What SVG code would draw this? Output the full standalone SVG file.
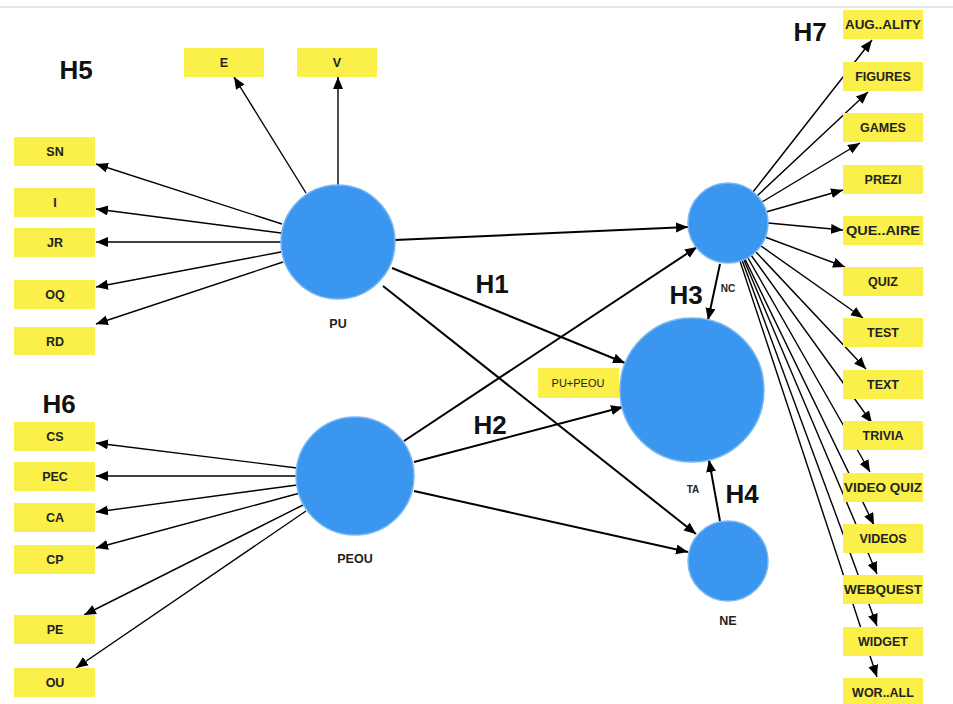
<svg xmlns="http://www.w3.org/2000/svg" width="953" height="704" viewBox="0 0 953 704">
  <defs>
    <marker id="head" markerUnits="userSpaceOnUse" markerWidth="13" markerHeight="11" refX="12" refY="5" orient="auto">
      <path d="M0,0 L12,5 L0,10 z" fill="#000"/>
    </marker>
    <style>
      .box { fill: #fbef4a; }
      .lbl { font-family: "Liberation Sans", Arial, sans-serif; font-weight: bold; font-size: 12.5px; fill: #222; text-anchor: middle; }
      .hyp { font-family: "Liberation Sans", Arial, sans-serif; font-weight: bold; font-size: 26px; fill: #111; text-anchor: middle; }
      .circ { fill: #3a96ee; stroke: #7ab8f2; stroke-width: 1.5; }
      .thin line { stroke: #000; stroke-width: 1.4; marker-end: url(#head); }
      .thick line { stroke: #000; stroke-width: 2; marker-end: url(#head); }
    </style>
  </defs>

  <rect width="953" height="704" fill="#fff"/>
  <line x1="0" y1="7" x2="953" y2="7" stroke="#e4e4e4" stroke-width="2"/>

  <!-- connectors -->
  <g id="connectors">
    <g class="thin">
      <!-- PU indicators -->
      <line x1="306" y1="193" x2="234" y2="77"/>
      <line x1="338" y1="185" x2="338" y2="77"/>
      <line x1="282" y1="224" x2="96" y2="164"/>
      <line x1="281" y1="233" x2="96" y2="209"/>
      <line x1="281" y1="242" x2="96" y2="242"/>
      <line x1="281" y1="252" x2="96" y2="287"/>
      <line x1="283" y1="262" x2="96" y2="324"/>
      <!-- PEOU indicators -->
      <line x1="297" y1="468" x2="96" y2="443"/>
      <line x1="297" y1="476" x2="96" y2="476"/>
      <line x1="297" y1="485" x2="96" y2="512"/>
      <line x1="300" y1="493" x2="96" y2="548"/>
      <line x1="303" y1="505" x2="84" y2="615"/>
      <line x1="306" y1="511" x2="76" y2="668"/>
      <!-- NC indicators -->
      <line x1="753" y1="192" x2="872" y2="40"/>
      <line x1="757" y1="196" x2="868" y2="92"/>
      <line x1="762" y1="202" x2="860" y2="143"/>
      <line x1="766" y1="212" x2="843" y2="190"/>
      <line x1="768" y1="223" x2="843" y2="230"/>
      <line x1="765" y1="237" x2="845" y2="267"/>
      <line x1="761" y1="246" x2="863" y2="318"/>
      <line x1="756" y1="252" x2="866" y2="369"/>
      <line x1="751" y1="255" x2="872" y2="423"/>
      <line x1="748" y1="258" x2="870" y2="472"/>
      <line x1="745" y1="259" x2="874" y2="525"/>
      <line x1="744" y1="260" x2="877" y2="574"/>
      <line x1="742" y1="260" x2="877" y2="626"/>
      <line x1="740" y1="261" x2="877" y2="677"/>
    </g>
    <g class="thick">
      <line x1="395" y1="240" x2="688" y2="227"/>
      <line x1="392" y1="268" x2="625" y2="363"/>
      <line x1="383" y1="286" x2="696" y2="534"/>
      <line x1="404" y1="441" x2="697" y2="247"/>
      <line x1="414" y1="462" x2="623" y2="407"/>
      <line x1="414" y1="491" x2="688" y2="552"/>
      <line x1="720" y1="264" x2="708" y2="320"/>
      <line x1="720" y1="521" x2="709" y2="460"/>
    </g>
  </g>

  <!-- hypothesis labels -->
  <text class="hyp" x="76" y="79">H5</text>
  <text class="hyp" x="59" y="413">H6</text>
  <text class="hyp" x="810" y="41">H7</text>
  <text class="hyp" x="492" y="293">H1</text>
  <text class="hyp" x="490" y="434">H2</text>
  <text class="hyp" x="686" y="304">H3</text>
  <text class="hyp" x="742" y="503">H4</text>

  <!-- latent constructs -->
  <g id="PU"><circle class="circ" cx="338" cy="242" r="57"/><text class="lbl" x="338" y="328">PU</text></g>
  <g id="PEOU"><circle class="circ" cx="355" cy="476" r="59"/><text class="lbl" x="355" y="563">PEOU</text></g>
  <g id="NC"><circle class="circ" cx="728" cy="223" r="40"/><text class="lbl" x="728" y="292" style="font-size:10px">NC</text></g>
  <g id="TA"><circle class="circ" cx="692" cy="390" r="72"/><text class="lbl" x="693" y="493" style="font-size:10px">TA</text></g>
  <g id="NE"><circle class="circ" cx="728" cy="561" r="40"/><text class="lbl" x="728" y="625">NE</text></g>

  <g id="PU_PEOU"><rect class="box" x="538" y="368" width="81" height="30"/><text class="lbl" x="578" y="387" style="font-weight:normal;font-size:11px">PU+PEOU</text></g>

  <!-- PU indicators -->
  <g id="E"><rect class="box" x="184" y="48" width="80" height="29"/><text class="lbl" x="224" y="67">E</text></g>
  <g id="V"><rect class="box" x="297" y="48" width="80" height="29"/><text class="lbl" x="337" y="67">V</text></g>
  <g id="SN"><rect class="box" x="14" y="137" width="81" height="29"/><text class="lbl" x="55" y="156">SN</text></g>
  <g id="I"><rect class="box" x="14" y="188" width="81" height="29"/><text class="lbl" x="55" y="207">I</text></g>
  <g id="JR"><rect class="box" x="14" y="228" width="81" height="29"/><text class="lbl" x="55" y="247">JR</text></g>
  <g id="OQ"><rect class="box" x="14" y="280" width="81" height="29"/><text class="lbl" x="55" y="299">OQ</text></g>
  <g id="RD"><rect class="box" x="14" y="327" width="81" height="28"/><text class="lbl" x="55" y="346">RD</text></g>

  <!-- PEOU indicators -->
  <g id="CS"><rect class="box" x="14" y="422" width="81" height="29"/><text class="lbl" x="55" y="441">CS</text></g>
  <g id="PEC"><rect class="box" x="14" y="462" width="81" height="29"/><text class="lbl" x="55" y="481">PEC</text></g>
  <g id="CA"><rect class="box" x="14" y="503" width="81" height="29"/><text class="lbl" x="55" y="522">CA</text></g>
  <g id="CP"><rect class="box" x="14" y="545" width="81" height="29"/><text class="lbl" x="55" y="564">CP</text></g>
  <g id="PE"><rect class="box" x="14" y="615" width="81" height="29"/><text class="lbl" x="55" y="634">PE</text></g>
  <g id="OU"><rect class="box" x="14" y="668" width="81" height="29"/><text class="lbl" x="55" y="687">OU</text></g>

  <!-- NC indicators -->
  <g id="AUGALITY"><rect class="box" x="843" y="10" width="80" height="29"/><text class="lbl" x="883" y="29" textLength="76" lengthAdjust="spacingAndGlyphs">AUG..ALITY</text></g>
  <g id="FIGURES"><rect class="box" x="843" y="62" width="80" height="29"/><text class="lbl" x="883" y="81">FIGURES</text></g>
  <g id="GAMES"><rect class="box" x="843" y="113" width="80" height="29"/><text class="lbl" x="883" y="132">GAMES</text></g>
  <g id="PREZI"><rect class="box" x="843" y="165" width="80" height="29"/><text class="lbl" x="883" y="184">PREZI</text></g>
  <g id="QUEAIRE"><rect class="box" x="843" y="216" width="80" height="29"/><text class="lbl" x="883" y="235" textLength="74" lengthAdjust="spacingAndGlyphs">QUE..AIRE</text></g>
  <g id="QUIZ"><rect class="box" x="843" y="267" width="80" height="29"/><text class="lbl" x="883" y="286">QUIZ</text></g>
  <g id="TEST"><rect class="box" x="843" y="318" width="80" height="29"/><text class="lbl" x="883" y="337">TEST</text></g>
  <g id="TEXT"><rect class="box" x="843" y="370" width="80" height="29"/><text class="lbl" x="883" y="389">TEXT</text></g>
  <g id="TRIVIA"><rect class="box" x="843" y="421" width="80" height="29"/><text class="lbl" x="883" y="440">TRIVIA</text></g>
  <g id="VIDEOQUIZ"><rect class="box" x="843" y="473" width="80" height="29"/><text class="lbl" x="883" y="492" textLength="78" lengthAdjust="spacingAndGlyphs">VIDEO QUIZ</text></g>
  <g id="VIDEOS"><rect class="box" x="843" y="524" width="80" height="29"/><text class="lbl" x="883" y="543">VIDEOS</text></g>
  <g id="WEBQUEST"><rect class="box" x="843" y="575" width="80" height="29"/><text class="lbl" x="883" y="594" textLength="78" lengthAdjust="spacingAndGlyphs">WEBQUEST</text></g>
  <g id="WIDGET"><rect class="box" x="843" y="627" width="80" height="29"/><text class="lbl" x="883" y="646">WIDGET</text></g>
  <g id="WORALL"><rect class="box" x="843" y="678" width="80" height="29"/><text class="lbl" x="883" y="697">WOR..ALL</text></g>
</svg>
